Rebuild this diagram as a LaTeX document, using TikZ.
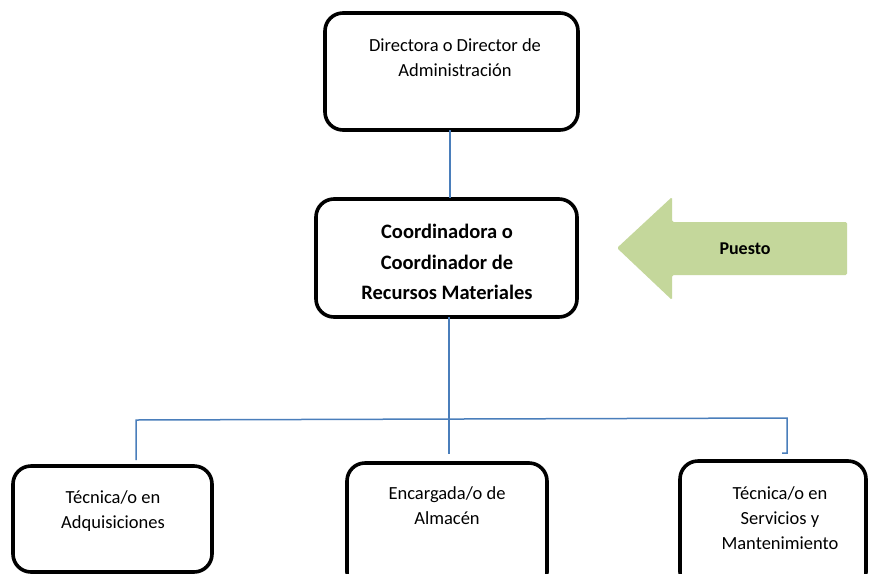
\documentclass[tikz,border=0pt]{standalone}
\usepackage{fontspec}
\setmainfont{Carlito}
\definecolor{linkblue}{HTML}{4A7EBB}
\definecolor{arrowgreen}{HTML}{C4D79B}
\begin{document}
\begin{tikzpicture}[x=1pt,y=-1pt,
  box/.style={draw=black, line width=3.6pt, rounded corners=18pt, fill=white},
  txt/.style={align=center, inner sep=0pt, font=\fontsize{18.5}{25}\selectfont},
  btxt/.style={align=center, inner sep=0pt, font=\bfseries\fontsize{20.5}{30.5}\selectfont},
  link/.style={draw=linkblue, line width=1.5pt}]
\useasboundingbox (0,0) rectangle (869,573);
\fill[white] (0,0) rectangle (869,573);
% boxes
\draw[box] (325,13) rectangle (578,130);
\coordinate (dirS) at (450,130);
\coordinate (cooN) at (450,198);
\draw[box] (316,199) rectangle (577,317);
\coordinate (cooS) at (449,317);
\draw[box] (13,466) rectangle (212,572);
\draw[box] (347,463) rectangle (547,590);
\draw[box] (680,461) rectangle (866,590);
% texts
\node[txt] (t1) at (455,58) {Directora o Director de\\Administración};
\node[btxt] (t2) at (447,262) {Coordinadora o\\Coordinador de\\Recursos Materiales};
\node[txt] (t3) at (113,511) {Técnica/o en\\Adquisiciones};
\node[txt] (t4) at (447,506) {Encargada/o de\\Almacén};
\node[txt] (t5) at (780,518) {Técnica/o en\\Servicios y\\Mantenimiento};
% connectors
\coordinate (jn) at (449,419);
\coordinate (hl) at (136,420);
\coordinate (hr) at (787,418);
\coordinate (lE) at (136,460);
\coordinate (mE) at (449,454);
\coordinate (rE) at (787,453);
\coordinate (rH) at (782,453);
\draw[link] (dirS) -- (cooN);
\draw[link] (cooS) -- (jn) -- (mE);
\draw[link] (lE) -- (hl) -- (hr) -- (rE) -- (rH);
% arrow
\fill[arrowgreen, rounded corners=1.5pt] (617,248) -- (672,197) -- (672,222) -- (847,222) -- (847,275) -- (672,275) -- (672,300) -- cycle;
\node[inner sep=0pt, font=\bfseries\fontsize{18}{22}\selectfont] (puesto) at (745,249) {Puesto};
\end{tikzpicture}
\end{document}
